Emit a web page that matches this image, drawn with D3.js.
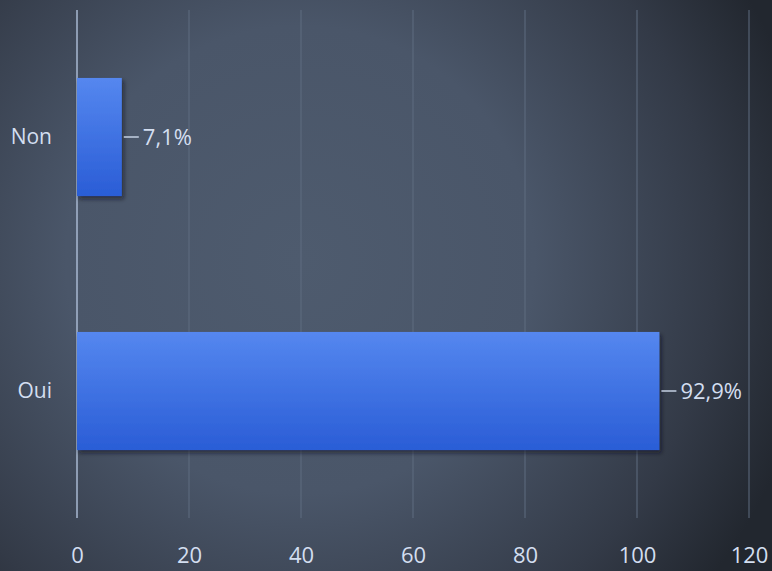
<!DOCTYPE html>
<html>
<head>
<meta charset="utf-8">
<script src="https://cdn.jsdelivr.net/npm/d3@7"></script>
<style>
  html, body { margin: 0; padding: 0; background: #3a4352; }
  svg { display: block; }
</style>
</head>
<body>
<div id="chart"></div>
<script>
// datos
const categories = ["Non", "Oui"]
const counts = [8, 104]
const percentLabels = ["7,1%", "92,9%"]
const tickValues = [0, 20, 40, 60, 80, 100, 120]

const width = 772, height = 571
const margin = { top: 10, right: 23, bottom: 53, left: 77 }

const svg = d3.select("#chart")
  .append("svg")
  .attr("width", width)
  .attr("height", height)

const defs = svg.append("defs")

// fondo degradado
const bg = defs.append("radialGradient")
  .attr("id", "bg")
  .attr("gradientUnits", "userSpaceOnUse")
  .attr("cx", 300).attr("cy", 260).attr("r", 520)
bg.append("stop").attr("offset", "0%").attr("stop-color", "#4e5b6e")
bg.append("stop").attr("offset", "45%").attr("stop-color", "#4a5669")
bg.append("stop").attr("offset", "80%").attr("stop-color", "#333a47")
bg.append("stop").attr("offset", "100%").attr("stop-color", "#22272f")

const barGrad = defs.append("linearGradient")
  .attr("id", "bar")
  .attr("x1", 0).attr("y1", 0).attr("x2", 0).attr("y2", 1)
barGrad.append("stop").attr("offset", "0%").attr("stop-color", "#5587ef")
barGrad.append("stop").attr("offset", "100%").attr("stop-color", "#2a5dd6")

const shadow = defs.append("filter").attr("id", "shadow")
  .attr("x", "-5%").attr("y", "-10%").attr("width", "120%").attr("height", "130%")
shadow.append("feDropShadow")
  .attr("dx", 2).attr("dy", 3).attr("stdDeviation", 2)
  .attr("flood-color", "#0d1220").attr("flood-opacity", 0.6)

svg.append("rect")
  .attr("width", width).attr("height", height)
  .attr("fill", "url(#bg)")

// Escalas
const x = d3.scaleLinear()
  .domain([0, 120])
  .range([margin.left, width - margin.right])

const y = d3.scaleBand()
  .domain(categories)
  .range([margin.top, height - margin.bottom])
  .paddingInner(0.535)
  .paddingOuter(0.2675)

const font = "'Open Sans', 'Noto Sans', sans-serif"

// Regla
const grid = svg.append("g")
grid.selectAll("line")
  .data(tickValues)
  .join("line")
  .attr("x1", d => x(d)).attr("x2", d => x(d))
  .attr("y1", margin.top).attr("y2", height - margin.bottom)
  .attr("stroke", d => d === 0 ? "#a9b9d2" : "#5f6c80")
  .attr("stroke-width", d => d === 0 ? 1.5 : 1)

const xAxis = svg.append("g")
  .attr("transform", `translate(0, ${height - margin.bottom})`)
  .call(d3.axisBottom(x).tickValues(tickValues).tickSize(0).tickPadding(29))
xAxis.select(".domain").remove()
xAxis.selectAll("text")
  .attr("fill", "#d3def0")
  .style("font-family", font)
  .style("font-size", "22px")

const yAxis = svg.append("g")
  .attr("transform", `translate(${margin.left}, 0)`)
  .call(d3.axisLeft(y).tickSize(0).tickPadding(25))
yAxis.select(".domain").remove()
yAxis.selectAll("text")
  .attr("fill", "#d3def0")
  .style("font-family", font)
  .style("font-size", "21px")

// barras
svg.append("g").selectAll("rect")
  .data(categories)
  .join("rect")
  .attr("x", x(0))
  .attr("y", d => y(d))
  .attr("width", (d, i) => x(counts[i]) - x(0))
  .attr("height", y.bandwidth())
  .attr("fill", "url(#bar)")
  .attr("filter", "url(#shadow)")

// etiquetas
const labels = svg.append("g").selectAll("g")
  .data(categories)
  .join("g")
  .attr("transform", (d, i) => `translate(${x(counts[i])}, ${y(d) + y.bandwidth() / 2})`)
labels.append("line")
  .attr("x1", 2).attr("x2", 17)
  .attr("stroke", "#c5d1e3").attr("stroke-width", 1.5)
labels.append("text")
  .attr("x", 21)
  .attr("dy", "0.35em")
  .attr("fill", "#d3def0")
  .style("font-family", font)
  .style("font-size", "22px")
  .text((d, i) => percentLabels[i])
</script>
</body>
</html>
